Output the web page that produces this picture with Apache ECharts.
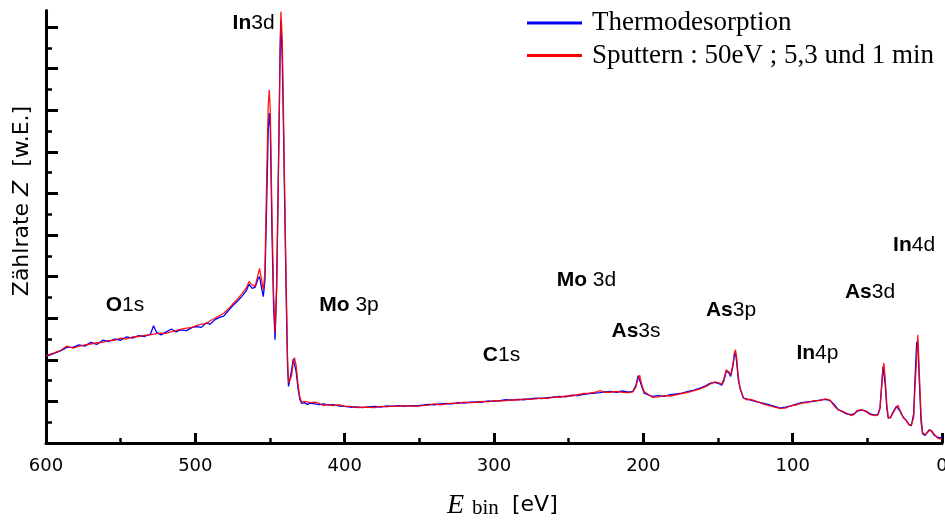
<!DOCTYPE html>
<html>
<head>
<meta charset="utf-8">
<script src="https://cdn.jsdelivr.net/npm/echarts@6/dist/echarts.min.js"></script>
<style>html,body{margin:0;padding:0;background:#fff}#c{width:945px;height:520px}</style>
</head>
<body>
<div id="c"></div>
<script>
// Binding energy (eV)
var energy = [
  600,595,590,586,582,578,574,570,566,562,
  558,554,550,546,542,538,534,530,528,526,
  523,520,516,513,510,506,502,499,496,493,
  490,487,484,481,478,475,472,469,466,464,
  462,460,458,457,455.5,454.5,453.4,452.2,451.2,450.5,
  449.8,448.7,447.6,446.6,445.5,444.7,443.8,443.2,442.7,441.8,
  441,440.2,439.2,438.3,437.6,436.8,435.5,434.5,433.6,432.5,
  431.2,430,428.8,427,425,423,420,417,414,411,
  408,404,400,396,392,388,384,380,376,372,
  368,364,360,356,352,348,344,340,336,332,
  328,324,320,316,312,308,304,300,296,292,
  288,284,280,276,272,268,264,260,256,252,
  248,244,240,236,232,229,226,222,218,214,
  210,207,205,203.5,202.5,201,199.5,197,194,190,
  186,182,178,174,170,166,162,158,155,152,
  149,147.5,146,144.5,143,141.5,140,139,138.3,137.5,
  136.5,135.3,134,133,131,128,124,120,116,112,
  108.5,105,101,97,94,90,86,82,78,75,
  72,69.5,67,64,61,59,57,54,51,48,
  45,43,41.5,40.5,39.5,38.9,38,37,36,34.5,
  32.5,30.5,29.5,28,26,24,22,20.5,19,18,
  17,16.2,15.2,14,13,11.5,10,8.5,7,5,
  3,1,0
];
// Thermodesorption counts (a.u.)
var thermo = [
  2.08,2.15,2.22,2.30,2.30,2.36,2.33,2.42,2.37,2.47,
  2.44,2.50,2.47,2.55,2.52,2.58,2.56,2.62,2.82,2.66,
  2.60,2.66,2.74,2.67,2.72,2.70,2.78,2.80,2.78,2.88,
  2.86,2.96,3.02,3.05,3.18,3.30,3.40,3.52,3.65,3.82,
  3.72,3.74,3.95,4.00,3.70,3.52,3.90,5.80,7.50,7.93,
  7.60,5.10,3.30,2.48,3.90,5.80,8.00,9.50,10.15,9.20,
  7.60,5.80,3.60,1.90,1.36,1.38,1.75,2.02,1.98,1.72,
  1.30,1.05,0.95,0.97,0.93,0.96,0.94,0.92,0.94,0.91,
  0.92,0.89,0.88,0.86,0.87,0.85,0.87,0.88,0.86,0.89,
  0.88,0.90,0.88,0.90,0.89,0.91,0.93,0.92,0.94,0.95,
  0.94,0.97,0.96,0.98,0.99,0.98,1.01,1.00,1.02,1.04,
  1.03,1.05,1.04,1.06,1.08,1.07,1.09,1.10,1.12,1.11,
  1.15,1.14,1.17,1.19,1.20,1.21,1.23,1.24,1.22,1.25,
  1.22,1.24,1.38,1.62,1.60,1.35,1.20,1.16,1.12,1.14,
  1.12,1.16,1.18,1.20,1.24,1.27,1.32,1.38,1.44,1.46,
  1.42,1.39,1.50,1.72,1.70,1.60,1.85,2.12,2.17,1.95,
  1.55,1.32,1.18,1.08,1.06,1.03,0.99,0.96,0.92,0.88,
  0.84,0.86,0.89,0.94,0.97,0.99,1.00,1.03,1.05,1.02,
  0.92,0.80,0.76,0.70,0.68,0.70,0.76,0.79,0.77,0.70,
  0.67,0.68,0.85,1.35,1.83,1.80,1.40,0.85,0.60,0.62,
  0.76,0.88,0.90,0.76,0.62,0.55,0.44,0.42,0.70,1.60,
  2.40,2.45,1.50,0.50,0.22,0.18,0.25,0.32,0.28,0.18,
  0.14,0.12,0.16
];
// Sputtern counts (a.u.)
var sputter = [
  2.10,2.16,2.23,2.33,2.28,2.32,2.36,2.38,2.41,2.42,
  2.46,2.47,2.52,2.50,2.55,2.56,2.59,2.60,2.62,2.63,
  2.64,2.63,2.68,2.70,2.73,2.76,2.78,2.83,2.86,2.87,
  2.94,3.00,3.06,3.12,3.22,3.34,3.45,3.58,3.72,3.88,
  3.80,3.76,4.05,4.20,3.90,3.68,4.10,6.40,8.10,8.49,
  8.00,5.50,3.60,2.65,3.70,5.60,7.80,9.50,10.37,9.70,
  8.00,6.10,3.90,2.10,1.45,1.44,1.62,1.95,2.05,1.86,
  1.40,1.10,0.98,1.00,0.99,0.97,0.98,0.95,0.90,0.93,
  0.90,0.92,0.88,0.88,0.85,0.86,0.86,0.85,0.88,0.87,
  0.89,0.88,0.90,0.89,0.88,0.90,0.91,0.94,0.92,0.94,
  0.96,0.95,0.98,0.97,0.98,1.00,0.99,1.02,1.01,1.02,
  1.04,1.03,1.06,1.05,1.06,1.08,1.07,1.11,1.10,1.13,
  1.13,1.16,1.19,1.20,1.22,1.26,1.22,1.22,1.24,1.22,
  1.21,1.23,1.34,1.55,1.63,1.40,1.24,1.18,1.10,1.11,
  1.14,1.13,1.16,1.19,1.22,1.26,1.30,1.36,1.42,1.47,
  1.44,1.41,1.55,1.76,1.72,1.64,1.90,2.18,2.24,2.05,
  1.62,1.34,1.20,1.09,1.04,1.05,1.00,0.94,0.90,0.86,
  0.83,0.84,0.90,0.92,0.96,0.97,1.02,1.02,1.06,1.03,
  0.88,0.79,0.77,0.72,0.66,0.68,0.78,0.80,0.76,0.68,
  0.66,0.67,0.82,1.30,1.80,1.92,1.55,0.95,0.62,0.60,
  0.74,0.86,0.91,0.78,0.62,0.54,0.43,0.44,0.60,1.40,
  2.00,2.60,1.70,0.65,0.25,0.20,0.24,0.30,0.30,0.20,
  0.12,0.10,0.10
];
var seriesNames = ['Thermodesorption', 'Sputtern : 50eV ; 5,3 und 1 min'];
// Peak annotations
var peakElem = ['O', 'In', 'Mo', 'C', 'Mo', 'As', 'As', 'In', 'As', 'In'];
var peakOrb  = ['1s', '3d', '3p', '1s', '3d', '3s', '3p', '4p', '3d', '4d'];
var peakE    = [547.1, 461.0, 397.1, 295.0, 238.1, 204.9, 141.3, 83.4, 48.2, 18.7];
var peakZ    = [3.32, 10.10, 3.32, 2.12, 3.92, 2.69, 3.20, 2.16, 3.63, 4.76];
// Axis ticks
var xMin = 0, xMax = 600, xStep = 100;
var yMin = 0, yMax = 10.4, yStep = 1;
var yMajor = [0,1,2,3,4,5,6,7,8,9,10];

var chart = echarts.init(document.getElementById('c'), null, {renderer: 'canvas'});
function pairs(vals) { return energy.map(function (e, i) { return [e, vals[i]]; }); }

var option = {
  animation: false,
  backgroundColor: '#fff',
  grid: {left: 46, right: 3, top: 10.4, bottom: 77, containLabel: false, outerBoundsMode: 'none'},
  legend: {
    orient: 'vertical', left: 527, top: 9.5, padding: 0, itemGap: 5.5,
    itemWidth: 55, itemHeight: 3, icon: 'rect',
    data: seriesNames,
    textStyle: {fontFamily: 'Liberation Serif', fontSize: 27, color: '#000', padding: [0, 0, 0, 5]}
  },
  xAxis: {
    type: 'value', min: xMin, max: xMax, interval: xStep, inverse: true,
    axisLine: {show: true, onZero: false, lineStyle: {color: '#000', width: 3}},
    axisTick: {show: true, inside: true, length: 10, lineStyle: {color: '#000', width: 3}},
    minorTick: {show: true, splitNumber: 2, length: 5, lineStyle: {color: '#000', width: 2.5}},
    axisLabel: {show: true, color: '#000', fontFamily: 'DejaVu Sans', fontSize: 18, margin: 14},
    splitLine: {show: false}, minorSplitLine: {show: false}
  },
  yAxis: {
    type: 'value', min: yMin, max: yMax, interval: yStep, position: 'left',
    axisLine: {show: true, onZero: false, lineStyle: {color: '#000', width: 3}},
    axisTick: {show: true, inside: true, length: 12, customValues: yMajor, lineStyle: {color: '#000', width: 3}},
    minorTick: {show: true, splitNumber: 2, length: 6, lineStyle: {color: '#000', width: 2.5}},
    axisLabel: {show: false},
    splitLine: {show: false}, minorSplitLine: {show: false}
  },
  series: [{
    name: seriesNames[0], type: 'line', data: pairs(thermo), showSymbol: false, symbol: 'none',
    color: '#0000ff', lineStyle: {color: '#0000ff', width: 1.3}, z: 2
  }, {
    name: seriesNames[1], type: 'line', data: pairs(sputter), showSymbol: false, symbol: 'none',
    color: '#ff0000', lineStyle: {color: '#ff0000', width: 1.3, opacity: 0.9}, z: 3
  }]
};
chart.setOption(option);

var g = [];
for (var i = 0; i < peakElem.length; i++) {
  var p = chart.convertToPixel({xAxisIndex: 0, yAxisIndex: 0}, [peakE[i], peakZ[i]]);
  var sep = peakElem[i] === 'Mo' ? ' ' : '';
  g.push({
    type: 'text', x: p[0], y: p[1], z: 10,
    style: {
      text: '{b|' + peakElem[i] + '}' + sep + '{n|' + peakOrb[i] + '}',
      align: 'center', verticalAlign: 'middle',
      fontFamily: 'Liberation Sans', fontSize: 21, fill: '#000',
      rich: {
        b: {fontFamily: 'Liberation Sans', fontSize: 21, fontWeight: 'bold', color: '#000'},
        n: {fontFamily: 'Liberation Sans', fontSize: 21, color: '#000'}
      }
    }
  });
}
// axis titles
g.push({type: 'text', x: 447, y: 505.5, style: {text: 'E', fontFamily: 'Liberation Serif', fontStyle: 'italic', fontSize: 28, fill: '#000', align: 'left', verticalAlign: 'middle'}});
g.push({type: 'text', x: 472, y: 508, style: {text: 'bin', fontFamily: 'Liberation Serif', fontSize: 21, fill: '#000', align: 'left', verticalAlign: 'middle'}});
g.push({type: 'text', x: 512, y: 505, style: {text: '[eV]', fontFamily: 'DejaVu Sans', fontSize: 22, fill: '#000', align: 'left', verticalAlign: 'middle'}});
g.push({type: 'text', x: 22.5, y: 201, rotation: Math.PI / 2, style: {
  text: '{t|Zählrate }{i|Z}{t|  [w.E.]}', align: 'center', verticalAlign: 'middle',
  fontFamily: 'DejaVu Sans', fontSize: 22, fill: '#000',
  rich: {t: {fontFamily: 'DejaVu Sans', fontSize: 22, color: '#000'},
         i: {fontFamily: 'DejaVu Sans', fontSize: 22, fontStyle: 'italic', color: '#000'}}
}});
chart.setOption({graphic: g});
</script>
</body>
</html>
